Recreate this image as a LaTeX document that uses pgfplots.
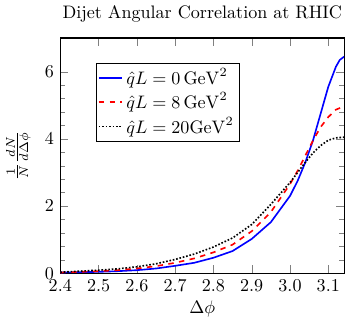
\documentclass[border=0pt]{standalone}
\usepackage{pgfplots}
\pgfplotsset{compat=1.18}
\begin{document}
\begin{tikzpicture}
\begin{axis}[
  scale only axis,
  width=157pt, height=130pt,
  xmin=2.4, xmax=3.14159, ymin=0, ymax=7,
  xtick={2.4,2.5,2.6,2.7,2.8,2.9,3.0,3.1},
  xticklabels={2.4,2.5,2.6,2.7,2.8,2.9,3.0,3.1},
  ytick={0,2,4,6},
  minor y tick num=4,
  axis line style={line width=0.7pt},
  title={Dijet Angular Correlation at RHIC},
  title style={yshift=-1pt},
  xlabel={$\Delta\phi$},
  xlabel style={yshift=2pt},
  ylabel={$\frac{1}{N}\frac{dN}{d\Delta\phi}$},
  ylabel style={yshift=1pt},
  legend style={at={(rel axis cs:0.125,0.895)}, anchor=north west, font=\normalsize, inner sep=1pt, row sep=-1pt},
  legend image code/.code={\draw[#1] (0cm,0cm) -- (0.45cm,0cm);},
  legend cell align=left,
]
\addplot[draw=blue, solid, line width=0.9pt] coordinates {
(2.40,0.02) (2.45,0.03) (2.50,0.04) (2.55,0.06) (2.60,0.09) (2.65,0.14)
(2.70,0.22) (2.75,0.31) (2.80,0.46) (2.85,0.66) (2.90,1.02) (2.95,1.52)
(3.00,2.30) (3.02,2.75) (3.04,3.30) (3.06,3.95) (3.08,4.75) (3.10,5.55)
(3.12,6.15) (3.13,6.35) (3.14159,6.45)};
\addlegendentry{$\hat{q}L = 0\,\mathrm{GeV}^2$}
\addplot[draw=red, dashed, line width=0.9pt] coordinates {
(2.40,0.02) (2.45,0.04) (2.50,0.06) (2.55,0.09) (2.60,0.14) (2.65,0.21)
(2.70,0.31) (2.75,0.44) (2.80,0.62) (2.85,0.85) (2.90,1.25) (2.95,1.82)
(3.00,2.65) (3.02,3.05) (3.04,3.50) (3.06,3.95) (3.08,4.35) (3.10,4.65)
(3.12,4.87) (3.14159,4.97)};
\addlegendentry{$\hat{q}L = 8\,\mathrm{GeV}^2$}
\addplot[draw=black, densely dotted, line width=0.9pt] coordinates {
(2.40,0.03) (2.45,0.06) (2.50,0.09) (2.55,0.13) (2.60,0.19) (2.65,0.28)
(2.70,0.41) (2.75,0.57) (2.80,0.78) (2.85,1.05) (2.90,1.45) (2.95,2.05)
(3.00,2.70) (3.02,3.00) (3.04,3.30) (3.06,3.58) (3.08,3.80) (3.10,3.96)
(3.12,4.03) (3.14159,4.05)};
\addlegendentry{$\hat{q}L = 20\mathrm{GeV}^2$}
\end{axis}
\end{tikzpicture}
\end{document}
